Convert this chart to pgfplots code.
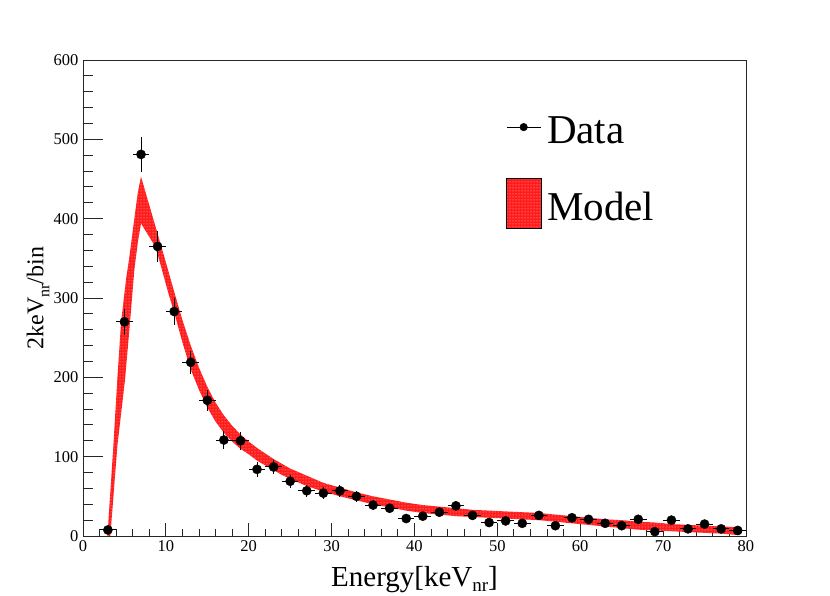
\documentclass[border=0pt]{standalone}
\usepackage{fontspec}
\setmainfont{Liberation Serif}
\usepackage{pgfplots}
\pgfplotsset{compat=1.18}
\usetikzlibrary{patterns}
\definecolor{bandred}{RGB}{255,28,28}
\pgfplotstableread{
x ex y ey
3 1 7.6 2.8
5 1 270 16.4
7 1 481 21.9
9 1 365 19.1
11 1 283 16.8
13 1 219 14.8
15 1 171 13.1
17 1 121 11.0
19 1 120 11.0
21 1 84 9.2
23 1 87 9.3
25 1 69 8.3
27 1 57 7.5
29 1 54 7.3
31 1 57 7.5
33 1 50 7.1
35 1 39 6.2
37 1 35 5.9
39 1 22 4.7
41 1 25 5.0
43 1 30 5.5
45 1 38 6.2
47 1 26 5.1
49 1 17 4.1
51 1 19 4.4
53 1 16 4.0
55 1 26 5.1
57 1 13 3.6
59 1 23 4.8
61 1 21 4.6
63 1 16 4.0
65 1 13 3.6
67 1 21 4.6
69 1 5.5 2.3
71 1 20 4.5
73 1 9 3.0
75 1 15 3.9
77 1 9 3.0
79 1 7 2.6
}\datatable
\begin{document}
\begin{tikzpicture}[x=1pt,y=1pt]
\useasboundingbox (0,0) rectangle (830,596);
\begin{axis}[
  at={(83pt,60pt)}, anchor=south west,
  width=663pt, height=476pt, scale only axis,
  xmin=0, xmax=80, ymin=0, ymax=600,
  xtick={0,10,...,80}, ytick={0,100,...,600},
  minor x tick num=4, minor y tick num=4,
  tick align=inside,
  xtick pos=bottom, ytick pos=left,
  x tick style={/pgfplots/major tick length=13pt,/pgfplots/minor tick length=7pt},
  y tick style={/pgfplots/major tick length=20pt,/pgfplots/minor tick length=10pt},
  tick style={black!85, line width=0.9pt},
  axis line style={black!85, line width=0.9pt},
  xticklabel={\pgfmathprintnumber[assume math mode=true]{\tick}},
  yticklabel={\pgfmathprintnumber[assume math mode=true]{\tick}},
  ticklabel style={font=\rmfamily\fontsize{16.5}{18}\selectfont},
  xticklabel style={yshift=-1pt},
  yticklabel style={xshift=-1pt},
  xlabel={Energy[keV\raisebox{-5pt}{\fontsize{19}{19}\selectfont nr}]},
  ylabel={2keV\raisebox{-6pt}{\fontsize{16}{16}\selectfont nr}/bin},
  xlabel style={at={(rel axis cs:0.5,0)}, anchor=base, yshift=-50.7pt, font=\fontsize{29}{30}\selectfont},
  ylabel style={at={(rel axis cs:0,0.5)}, anchor=base, yshift=39.7pt, font=\fontsize{24}{26}\selectfont},
  legend style={at={(rel axis cs:0.638,0.885)}, anchor=north west, draw=none, fill=none,
     font=\fontsize{41}{43}\selectfont, row sep=31pt, column sep=3pt, inner sep=0pt,
     nodes={inner sep=2pt}},
  legend cell align=left,
  clip=false,
]
\addplot[draw=none, fill=bandred, postaction={pattern=dots, pattern color=white!80!red}, forget plot] coordinates {
(2.95,0) (3.66,113) (4.14,197) (4.59,269) (5.19,323) (5.6,352) (6.07,390) (6.6,432) (7,453)
(8,417) (9,381) (10,345) (11,308) (12,272) (13,240) (14,212) (15,188) (16,168) (17,152)
(18,139) (19,128) (20,119) (21,111) (22,104) (23,97) (24,91) (25,85) (27,76) (29,67)
(31,61) (33,55) (35,50) (37,46) (39,42) (41,39) (43,37) (45,35) (47,33) (49,32) (51,31)
(53,30) (55,29) (57,27) (59,25) (61,23) (63,21) (65,20) (67,18) (69,17) (71,15) (73,14)
(75,13) (77,12) (79.3,11)
(79.3,1) (77,3) (75,4) (73,5) (71,6) (69,7) (67,8) (65,10) (63,12) (61,14) (59,16) (57,18)
(55,20) (53,21) (51,22) (49,23) (47,24) (45,25) (43,27) (41,29) (39,32) (37,36) (35,40)
(33,45) (31,50) (29,56) (27,63) (25,72) (24,77) (23,83) (22,89) (21,95) (20,103) (19,110)
(18,119) (17,130) (16,144) (15,162) (14,184) (13,210) (12,244) (11,282) (10.3,306)
(9.2,348) (8.69,365) (8,377) (7,394) (6.6,369) (6.19,335) (5.67,269) (5.07,197)
(4.14,113) (3.3,0)
} -- cycle;
\addplot[only marks, mark=*, mark size=4.6pt, black, forget plot,
  error bars/.cd, x dir=both, x explicit, y dir=both, y explicit,
  error mark=none, error bar style={line width=1pt, black}]
  table[x=x, y=y, x error=ex, y error=ey] {\datatable};
\addlegendimage{legend image code/.code={
  \draw[black, line width=1pt] (0pt,4pt) -- (34pt,4pt);
  \fill[black] (17pt,4pt) circle (3.8pt);}}
\addlegendentry{Data}
\addlegendimage{legend image code/.code={
  \draw[fill=bandred, postaction={pattern=dots, pattern color=white!80!red}, draw=black, line width=0.8pt] (0pt,-22pt) rectangle (35pt,28pt);}}
\addlegendentry{Model}
\end{axis}
\end{tikzpicture}
\end{document}
